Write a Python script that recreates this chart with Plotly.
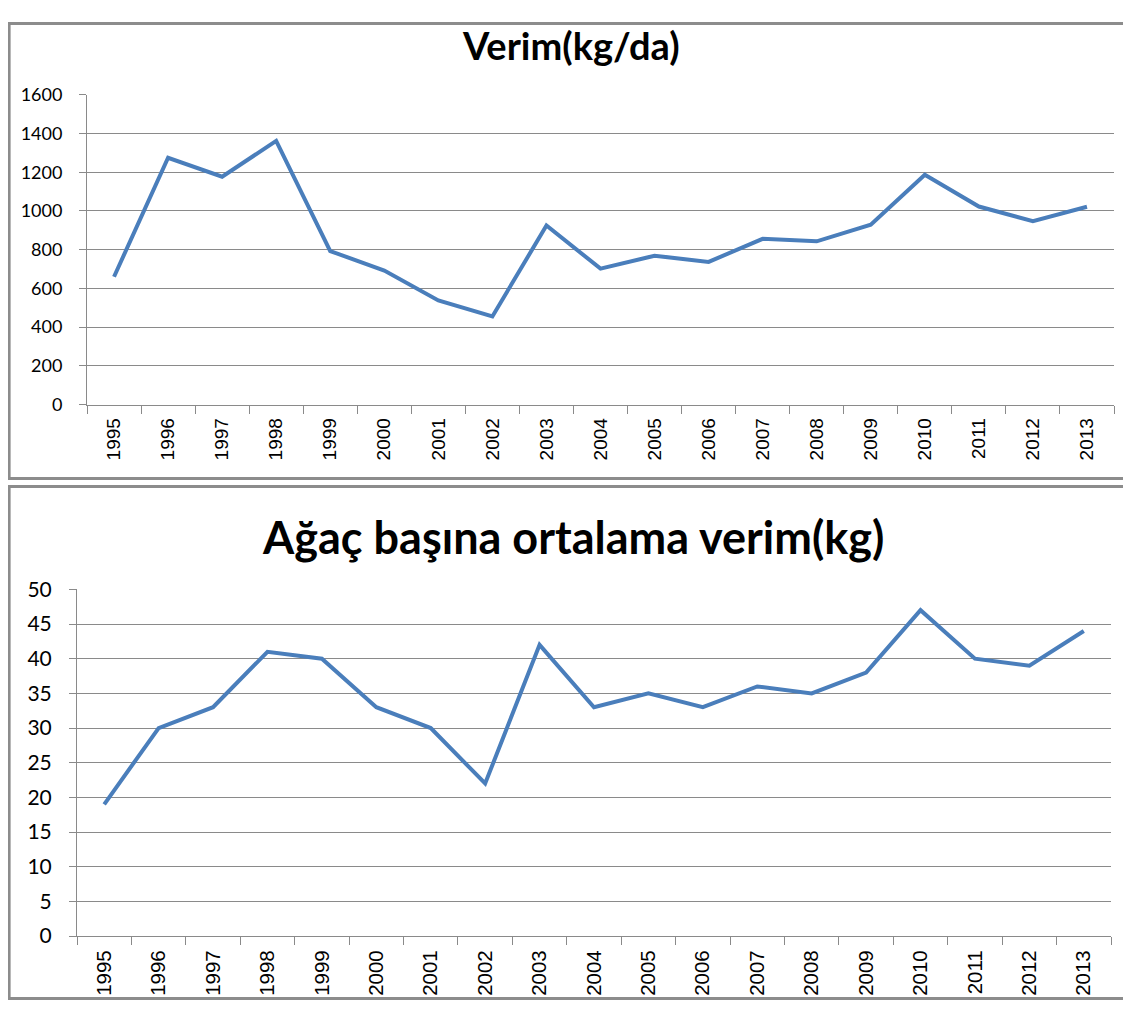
import plotly.graph_objects as go

years = ["1995", "1996", "1997", "1998", "1999", "2000", "2001", "2002", "2003", "2004",
         "2005", "2006", "2007", "2008", "2009", "2010", "2011", "2012", "2013"]
verim_kg_da = [660, 1275, 1177, 1362, 793, 692, 538, 455, 925, 702,
               769, 737, 856, 843, 929, 1187, 1023, 947, 1022]
agac_basina_kg = [19, 30, 33, 41, 40, 33, 30, 22, 42, 33,
                  35, 33, 36, 35, 38, 47, 40, 39, 44]

title_top = "Verim(kg/da)"
title_bottom = "Ağaç başına ortalama verim(kg)"

OFF = 8
W, H = 1131 - 2 * OFF, 1019 - 2 * OFF

def px_x(x):
    return (x - OFF) / W

def px_y(y):
    # calibrated vertical mapping from target picture pixel to figure pixel
    yf = (y - 21.1) / 0.976
    return min(max(1 - yf / H, 0.0), 1.0)

LINE = "#4A7EBB"
GRID = "#8A8A8A"
FRAME = "#8C8C8C"

fig = go.Figure()
fig.add_trace(go.Scatter(x=years, y=verim_kg_da, mode="lines",
                         line=dict(color=LINE, width=4), xaxis="x", yaxis="y",
                         showlegend=False, hoverinfo="x+y"))
fig.add_trace(go.Scatter(x=years, y=agac_basina_kg, mode="lines",
                         line=dict(color=LINE, width=4), xaxis="x2", yaxis="y2",
                         showlegend=False, hoverinfo="x+y"))

xcommon = dict(type="category", range=[-0.5, len(years) - 0.5], tickson="boundaries",
               ticks="outside", ticklen=8, tickcolor=GRID, tickwidth=1,
               showline=True, linecolor=GRID, linewidth=1, showgrid=False,
               tickangle=-90, zeroline=False, ticklabelstandoff=5)
ycommon = dict(showgrid=True, gridcolor=GRID, gridwidth=1, showline=True,
               linecolor=GRID, linewidth=1, ticks="outside", ticklen=7,
               tickcolor=GRID, zeroline=False, ticklabelstandoff=13)

fig.update_layout(
    width=W, height=H,
    margin=dict(l=0, r=0, t=0, b=0),
    paper_bgcolor="white", plot_bgcolor="white",
    xaxis=dict(xcommon, domain=[px_x(87), px_x(1114)], anchor="y",
               tickfont=dict(family="Liberation Sans", size=19, color="#000000")),
    yaxis=dict(ycommon, domain=[px_y(404), px_y(94)], anchor="x",
               range=[0, 1600], dtick=200,
               tickfont=dict(family="Lato", size=18, color="#000000")),
    xaxis2=dict(xcommon, domain=[px_x(77), px_x(1111)], anchor="y2",
                tickfont=dict(family="Liberation Sans", size=20.5, color="#000000")),
    yaxis2=dict(ycommon, domain=[px_y(936), px_y(589)], anchor="x2",
                range=[0, 50], dtick=5,
                tickfont=dict(family="Lato", size=21, color="#000000")),
    shapes=[
        dict(type="rect", xref="paper", yref="paper",
             x0=0.001, x1=1.02, y0=px_y(478), y1=0.9985,
             line=dict(color=FRAME, width=3)),
        dict(type="rect", xref="paper", yref="paper",
             x0=0.001, x1=1.02, y0=0.0015, y1=px_y(486),
             line=dict(color=FRAME, width=3)),
    ],
    annotations=[
        dict(text="<b>" + title_top + "</b>", xref="paper", yref="paper",
             x=px_x(571), y=px_y(44), showarrow=False, xanchor="center", yanchor="middle",
             font=dict(family="Lato", size=38, color="#000000")),
        dict(text="<b>" + title_bottom + "</b>", xref="paper", yref="paper",
             x=px_x(573), y=px_y(537), showarrow=False, xanchor="center", yanchor="middle",
             font=dict(family="Lato", size=45, color="#000000")),
    ],
)

fig.write_html("out.html")
